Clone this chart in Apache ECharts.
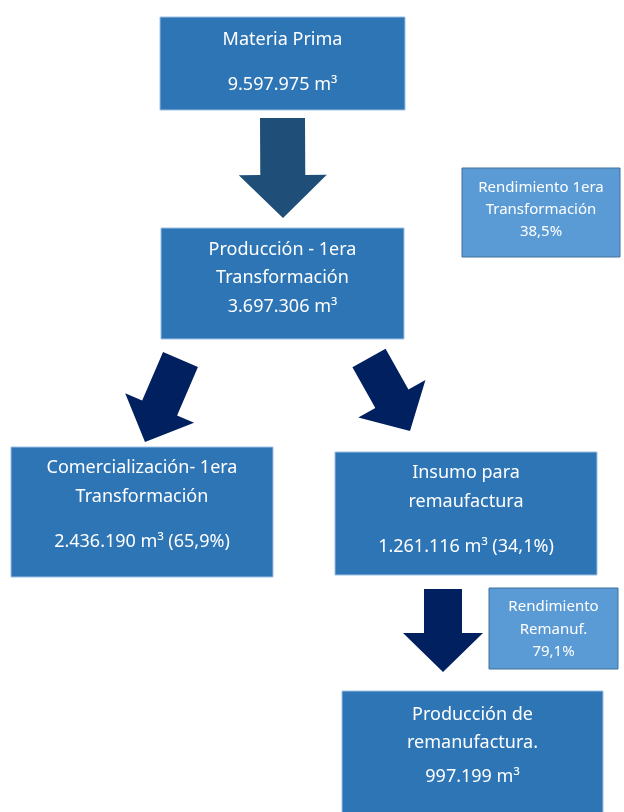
<!DOCTYPE html>
<html>
<head>
<meta charset="utf-8">
<script src="https://cdn.jsdelivr.net/npm/echarts@6/dist/echarts.min.js"></script>
<style>
  html, body { margin: 0; padding: 0; background: #fff; }
  #chart { width: 624px; height: 812px; }
</style>
</head>
<body>
<div id="chart"></div>
<script>
// etapas del flujo de madera
const stageTitles = [
  'Materia Prima',
  'Producción - 1era\nTransformación',
  'Comercialización- 1era\nTransformación',
  'Insumo para\nremaufactura',
  'Producción de\nremanufactura.'
]
const stageVolumes = [9597975, 3697306, 2436190, 1261116, 997199]
const stageShares = [null, null, 65.9, 34.1, null]

// rendimientos
const yieldTitles = ['Rendimiento 1era\nTransformación', 'Rendimiento\nRemanuf.']
const yieldValues = [38.5, 79.1]

// layout in the hidden 624 x 812 axis space
const stageBoxes = [
  [160, 17, 405, 110],
  [161, 228, 404, 339],
  [11, 447, 273, 577],
  [335, 452, 597, 575],
  [342, 691, 603, 820]
]
const stageLineY = [
  [40, 85],
  [250, 278, 307],
  [468, 497, 542],
  [473, 502, 547],
  [715, 743, 777]
]
const yieldBoxes = [
  [462, 168, 620, 257],
  [489, 588, 618, 669]
]
const yieldLineY = [
  [188, 210, 232],
  [607, 630, 652]
]
// start x, start y, tip x, tip y, shaft width, head width, head length
const arrowGeom = [
  [282.5, 118, 283, 218, 45, 88, 43],
  [180.5, 359.5, 145, 442, 38, 75, 37],
  [369, 358, 410, 431, 38, 77, 37],
  [443, 589, 443, 672, 38, 80, 39]
]
const arrowColors = ['#1f4e79', '#002060', '#002060', '#002060']

function fmtVol(v) {
  return String(v).replace(/\B(?=(\d{3})+(?!\d))/g, '.')
}
function fmtPct(p) {
  return p.toFixed(1).replace('.', ',') + '%'
}

const stageLines = stageTitles.map((t, i) => {
  let v = fmtVol(stageVolumes[i]) + ' m³'
  if (stageShares[i] != null) v += ' (' + fmtPct(stageShares[i]) + ')'
  return t.split('\n').concat([v])
})
const yieldLines = yieldTitles.map((t, i) => t.split('\n').concat([fmtPct(yieldValues[i])]))

function boxRenderer(lines, lineY, style) {
  return function (params, api) {
    const i = params.dataIndex
    const p0 = api.coord([api.value(0), api.value(1)])
    const p1 = api.coord([api.value(2), api.value(3)])
    const cx = (p0[0] + p1[0]) / 2
    const children = [{
      type: 'rect',
      shape: { x: p0[0], y: p0[1], width: p1[0] - p0[0], height: p1[1] - p0[1] },
      style: { fill: style.fill, stroke: style.stroke, lineWidth: 1 }
    }]
    lines[i].forEach((txt, k) => {
      const py = api.coord([0, lineY[i][k]])[1]
      children.push({
        type: 'text',
        style: {
          text: txt, x: cx, y: py,
          align: 'center', verticalAlign: 'middle',
          fill: '#ffffff',
          font: style.font
        }
      })
    })
    return { type: 'group', children }
  }
}

function arrowRenderer(params, api) {
  const i = params.dataIndex
  const s = api.coord([api.value(0), api.value(1)])
  const t = api.coord([api.value(2), api.value(3)])
  const sw = api.value(4) / 2, hw = api.value(5) / 2, hl = api.value(6)
  const dx = t[0] - s[0], dy = t[1] - s[1]
  const len = Math.sqrt(dx * dx + dy * dy)
  const ux = dx / len, uy = dy / len
  const nx = -uy, ny = ux
  const bx = t[0] - ux * hl, by = t[1] - uy * hl
  const points = [
    [s[0] + nx * sw, s[1] + ny * sw],
    [bx + nx * sw, by + ny * sw],
    [bx + nx * hw, by + ny * hw],
    [t[0], t[1]],
    [bx - nx * hw, by - ny * hw],
    [bx - nx * sw, by - ny * sw],
    [s[0] - nx * sw, s[1] - ny * sw]
  ]
  return {
    type: 'polygon',
    shape: { points },
    style: { fill: arrowColors[i] }
  }
}

const chart = echarts.init(document.getElementById('chart'))
chart.setOption({
  animation: false,
  grid: { left: 0, right: 0, top: 0, bottom: 0 },
  xAxis: { type: 'value', min: 0, max: 624, show: false },
  yAxis: { type: 'value', min: 0, max: 812, inverse: true, show: false },
  series: [
    {
      type: 'custom',
      silent: true,
      clip: true,
      data: arrowGeom,
      renderItem: arrowRenderer
    },
    {
      type: 'custom',
      silent: true,
      clip: true,
      data: stageBoxes,
      renderItem: boxRenderer(stageLines, stageLineY, {
        fill: '#2e75b6', stroke: '#9cc0e4', font: '18px "Noto Sans"'
      })
    },
    {
      type: 'custom',
      silent: true,
      clip: true,
      data: yieldBoxes,
      renderItem: boxRenderer(yieldLines, yieldLineY, {
        fill: '#5b9bd5', stroke: '#41719c', font: '15px "Noto Sans"'
      })
    }
  ]
})
</script>
</body>
</html>
